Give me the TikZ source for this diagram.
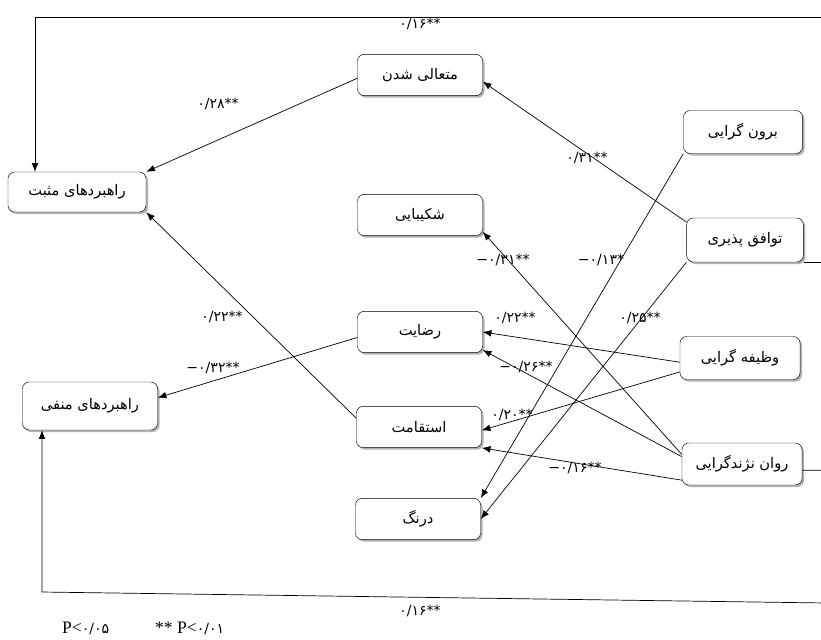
\documentclass[tikz,border=0pt]{standalone}
\usepackage{fontspec}
\setmainfont{Liberation Serif}
\newfontfamily\fatext[Script=Arabic]{DejaVu Sans}
\newfontfamily\fanum{DejaVu Sans}
\TeXXeTstate=1
\usetikzlibrary{arrows.meta}
\usetikzlibrary{shadows}
\newcommand{\fa}[1]{{\fatext\beginR #1\endR}}

\begin{document}
\begin{tikzpicture}
  [x=0.03cm,y=-0.03cm,
   box/.style={draw,rounded corners=2mm,fill=white,minimum width=3.75cm,minimum height=1.24cm,
     drop shadow={shadow xshift=0.6mm,shadow yshift=-0.6mm,fill=black!60},
     font=\fontsize{12.5}{14}\selectfont},
   eff/.style={-{Latex[length=2.6mm,width=2mm]},line width=0.6pt},
   coef/.style={font=\fanum\fontsize{12}{13}\selectfont,inner sep=1pt}]
  \useasboundingbox (0,0) rectangle (821,639);

  \node[box] (motaali) at (420,75) {\fa{متعالی شدن}};
  \node[box,minimum width=4.14cm,minimum height=1.2cm] (mosbat) at (77,192) {\fa{راهبردهای مثبت}};
  \node[box] (shakib) at (420,215) {\fa{شکیبایی}};
  \node[box] (rezayat) at (420,332) {\fa{رضایت}};
  \node[box] (esteghamat) at (419,427) {\fa{استقامت}};
  \node[box] (derang) at (418,519) {\fa{درنگ}};
  \node[box,minimum width=4.05cm,minimum height=1.44cm] (manfi) at (90,406) {\fa{راهبردهای منفی}};
  \node[box,minimum width=3.57cm,minimum height=1.29cm] (boroon) at (743,132) {\fa{برون گرایی}};
  \node[box,minimum width=3.5cm,minimum height=1.32cm] (tavafogh) at (745,240) {\fa{توافق پذیری}};
  \node[box,minimum width=3.6cm,minimum height=1.29cm] (vazife) at (740,358) {\fa{وظیفه گرایی}};
  \node[box,minimum width=3.6cm,minimum height=1.26cm] (ravan) at (742,464) {\fa{روان نژندگرایی}};

  \draw[eff] (motaali.183) -- (mosbat.north east);
  \draw[eff] (tavafogh.163) -- (motaali.354);
  \draw[eff] (esteghamat.172) -- (mosbat.south east);
  \draw[eff] (rezayat.185) -- (manfi.7);
  \draw[eff] (ravan.171) -- (shakib.345);
  \draw[eff] (boroon.south west) -- (derang.north east);
  \draw[eff] (tavafogh.south west) -- (derang.east);
  \draw[eff] (vazife.184) -- (rezayat.east);
  \draw[eff] (ravan.173) -- (rezayat.344);
  \draw[eff] (vazife.193) -- (esteghamat.357);
  \draw[eff] (ravan.195) -- (esteghamat.south east);

  \coordinate (ttop) at (826,17);
  \coordinate (tleft) at (35,17);
  \draw[eff] (tavafogh.south east) -| (ttop) -- (tleft) -- (tleft |- mosbat.north);
  \coordinate (bright) at (826,603);
  \coordinate (bleft) at (42,592);
  \draw[eff] (ravan.-6) -| (bright) -- (bleft) -- (bleft |- manfi.south);

  \node[coef] (c1) at (420,24) {۰/۱۶**};
  \node[coef] (c2) at (218,104) {۰/۲۸**};
  \node[coef] (c3) at (587,158) {۰/۳۱**};
  \node[coef] (c4) at (222,317) {۰/۲۲**};
  \node[coef] (c5) at (213,368) {−۰/۳۲**};
  \node[coef] (c6) at (503,260) {−۰/۳۱**};
  \node[coef] (c7) at (601,260) {−۰/۱۳*};
  \node[coef] (c8) at (515,318) {۰/۲۲**};
  \node[coef] (c9) at (640,318) {۰/۲۵**};
  \node[coef] (c10) at (526,367) {−۰/۲۶**};
  \node[coef] (c11) at (512,415) {۰/۲۰**};
  \node[coef] (c12) at (575,468) {−۰/۱۶**};
  \node[coef] (c13) at (420,611) {۰/۱۶**};

  \node[anchor=west,font=\fontsize{15}{16}\selectfont] (leg1) at (58,628) {P<{\fanum\fontsize{12}{13}\selectfont ۰/۰۵}};
  \node[anchor=west,font=\fontsize{15}{16}\selectfont] (leg2) at (151,628) {** P<{\fanum\fontsize{12}{13}\selectfont ۰/۰۱}};
\end{tikzpicture}
\end{document}
